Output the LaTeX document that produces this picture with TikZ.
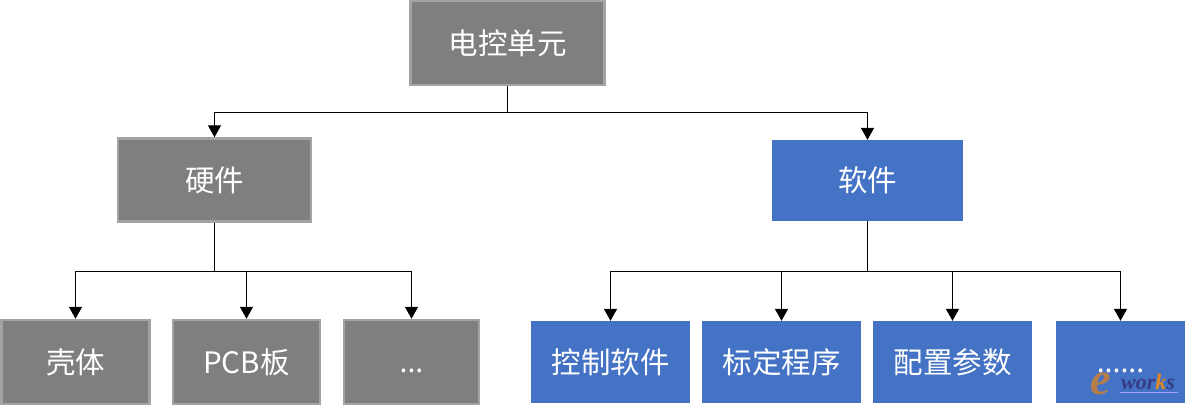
\documentclass[tikz,border=0pt]{standalone}
\usepackage{fontspec}
\setmainfont{Noto Sans CJK SC}
\newfontfamily\wmfont{Liberation Serif}
\newfontfamily\dotfont{Noto Sans}
\usetikzlibrary{arrows.meta}
\definecolor{gfill}{HTML}{7F7F7F}
\definecolor{gedge}{HTML}{A3A3A3}
\definecolor{bfill}{HTML}{4472C4}
\newcommand{\lbl}[1]{\raisebox{-1pt}{#1}}
\newcommand{\lblb}[1]{\raisebox{-2pt}{#1}}
\tikzset{
  x=1pt,y=-1pt,
  boxbase/.style={rectangle,inner sep=0pt,text=white,font=\fontsize{29.5}{32}\selectfont,anchor=center},
  graybox/.style={boxbase,fill=gfill,draw=gedge,line width=2.5pt},
  bluebox/.style={boxbase,fill=bfill},
  link/.style={draw=black,line width=1.4pt},
  arrowlink/.style={link,-{Triangle[length=12pt,width=13pt]}}
}
\begin{document}
\begin{tikzpicture}
\useasboundingbox (0,0) rectangle (1187,405);
\node[graybox,minimum width=194pt,minimum height=84pt] (top) at (507.5,43) {\lbl{电控单元}};
\node[graybox,minimum width=193pt,minimum height=83pt] (hw) at (214.5,180) {\lblb{硬件}};
\node[bluebox,minimum width=191pt,minimum height=81pt] (sw) at (867.5,180.5) {\lblb{软件}};
\node[graybox,minimum width=148pt,minimum height=84pt] (shell) at (75.5,362) {\lbl{壳体}};
\node[graybox,minimum width=147pt,minimum height=84pt] (pcb) at (246.5,362) {\lbl{PCB板}};
\node[graybox,minimum width=135pt,minimum height=84pt] (hdots) at (411.5,362) {\lbl{\vphantom{国}\dotfont ...}};
\node[bluebox,minimum width=158.5pt,minimum height=82pt] (ctrl) at (610.5,362) {\lbl{控制软件}};
\node[bluebox,minimum width=158.5pt,minimum height=82pt] (calib) at (781.5,362) {\lbl{标定程序}};
\node[bluebox,minimum width=158.5pt,minimum height=82pt] (conf) at (952.5,362) {\lbl{配置参数}};
\node[bluebox,minimum width=129pt,minimum height=82pt] (sdots) at (1120.5,362) {\lbl{\vphantom{国}\dotfont ......}};
% watermark
\node[inner sep=0pt,anchor=base west,font=\wmfont\bfseries\itshape\fontsize{46}{46}\selectfont,text=orange!60!gray,opacity=.85] (wme) at (1090,394) {e};
\node[inner sep=0pt,anchor=base west,font=\wmfont\bfseries\itshape\fontsize{22}{22}\selectfont,text=blue!35!black!80,opacity=.85] (wmw) at (1121,389) {wor\textcolor{orange!90!yellow}{k}s};
\coordinate (wma) at (1120,392.5);
\coordinate (wmb) at (1178,392.5);
\draw[white!65!blue,line width=1.5pt] (wma) -- (wmb);
% connectors
\coordinate (topbus) at (top.south |- 0,112.5);
\coordinate (hwbus) at (hw.south |- 0,271.5);
\coordinate (swbus) at (sw.south |- 0,271.5);
\draw[link] (top.south) -- (topbus);
\draw[arrowlink] (topbus) -| (hw.north);
\draw[arrowlink] (topbus) -| (sw.north);
\draw[link] (hw.south) -- (hwbus);
\draw[arrowlink] (hwbus) -| (shell.north);
\draw[arrowlink] (hwbus) -| (pcb.north);
\draw[arrowlink] (hwbus) -| (hdots.north);
\draw[link] (sw.south) -- (swbus);
\draw[arrowlink] (swbus) -| (ctrl.north);
\draw[arrowlink] (swbus) -| (calib.north);
\draw[arrowlink] (swbus) -| (conf.north);
\draw[arrowlink] (swbus) -| (sdots.north);
\end{tikzpicture}
\end{document}
